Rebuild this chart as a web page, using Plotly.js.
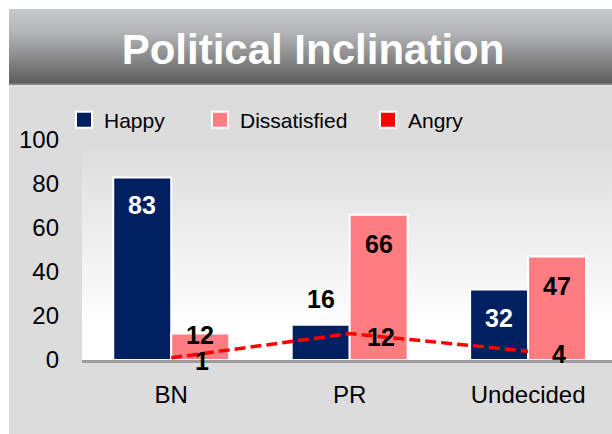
<!DOCTYPE html>
<html>
<head>
<meta charset="utf-8">
<script src="https://cdn.plot.ly/plotly-3.0.1.min.js"></script>
<style>
	html, body { margin: 0; padding: 0; background: #fff; }
	#chart { width: 612px; height: 434px; }
</style>
</head>
<body>
<div id="chart"></div>
<script>
const categories = ['BN', 'PR', 'Undecided'],
	happy = [83, 16, 32],
	dissatisfied = [12, 66, 47],
	angry = [1, 12, 4];

// label offsets (px) from the top of each bar
const happyShift = [-28, 26, -28],
	dissatisfiedShift = [-1, -29, -29],
	happyTextColor = ['#fff', '#000', '#fff'];

const W = 612,
	H = 434,
	M = { l: 82, r: 0, t: 140, b: 74 },
	pw = W - M.l - M.r,
	ph = H - M.t - M.b,
	FONT = 'Liberation Sans, Arial, sans-serif',
	NAVY = '#002060',
	PINK = '#ff7c80',
	RED = '#ff0000';

// pixel -> paper coords
var fx = function (p) { return (p - M.l) / pw; },
	fy = function (p) { return (H - M.b - p) / ph; };

function svgFill(stops) {
	var s = stops.map(function (d) {
		return '<stop offset="' + d[0] + '" stop-color="' + d[1] + '"/>';
	}).join('');
	var svg = '<svg xmlns="http://www.w3.org/2000/svg" width="10" height="100" viewBox="0 0 10 100" preserveAspectRatio="none">' +
		'<defs><linearGradient id="g" x1="0" y1="0" x2="0" y2="1">' + s + '</linearGradient></defs>' +
		'<rect width="10" height="100" fill="url(#g)"/></svg>';
	return 'data:image/svg+xml;charset=utf-8,' + encodeURIComponent(svg);
}

function bgImage(src, x0, y0, x1, y1) {
	return {
		source: src, xref: 'paper', yref: 'paper',
		x: fx(x0), y: fy(y0), sizex: (x1 - x0) / pw, sizey: (y1 - y0) / ph,
		xanchor: 'left', yanchor: 'top', sizing: 'stretch', layer: 'below'
	};
}

var traces = [
	{
		type: 'bar', name: 'Happy', x: categories, y: happy, showlegend: false,
		marker: { color: NAVY, line: { color: '#fff', width: 2 } }
	},
	{
		type: 'bar', name: 'Dissatisfied', x: categories, y: dissatisfied, showlegend: false,
		marker: { color: PINK, line: { color: '#fff', width: 2 } }
	},
	{
		type: 'scatter', mode: 'lines', name: 'Angry', x: categories, y: angry, showlegend: false,
		line: { color: RED, width: 3.5, dash: '11px,5px' }
	}
];

// legend entries (square swatches like the original)
[['Happy', NAVY, 'legend'], ['Dissatisfied', PINK, 'legend2'], ['Angry', RED, 'legend3']].forEach(function (d) {
	traces.push({
		type: 'scatter', mode: 'markers', name: d[0], x: [null], y: [null], legend: d[2],
		marker: { symbol: 'square', size: 24, color: d[1], line: { color: '#fff', width: 2 } }
	});
});

var annotations = [];
categories.forEach(function (c, i) {
	annotations.push({
		x: c, y: happy[i], text: String(happy[i]), showarrow: false,
		xshift: -29, yshift: happyShift[i], yanchor: 'middle',
		font: { family: FONT, size: 25, weight: 'bold', color: happyTextColor[i] }
	});
	annotations.push({
		x: c, y: dissatisfied[i], text: String(dissatisfied[i]), showarrow: false,
		xshift: 29, yshift: dissatisfiedShift[i], yanchor: 'middle',
		font: { family: FONT, size: 25, weight: 'bold', color: '#000' }
	});
	annotations.push({
		x: c, y: angry[i], text: String(angry[i]), showarrow: false,
		xshift: 31, yshift: -3, yanchor: 'middle',
		font: { family: FONT, size: 25, weight: 'bold', color: '#000' }
	});
});

function legendAt(px) {
	return {
		x: fx(px), y: fy(120), xanchor: 'left', yanchor: 'middle',
		orientation: 'h', bgcolor: 'rgba(0,0,0,0)', borderwidth: 0,
		itemsizing: 'trace',
		font: { family: FONT, size: 21, color: '#000' }
	};
}

var layout = {
	width: W,
	height: H,
	margin: M,
	paper_bgcolor: '#fff',
	plot_bgcolor: 'rgba(0,0,0,0)',
	font: { family: FONT, color: '#000' },
	title: {
		text: 'Political Inclination',
		font: { family: FONT, size: 42, weight: 'bold', color: '#fff' },
		xref: 'container', yref: 'container',
		x: 313 / W, y: 1 - 49 / H, xanchor: 'center', yanchor: 'middle'
	},
	barmode: 'group',
	bargap: 0.35,
	bargroupgap: 0,
	xaxis: {
		type: 'category',
		range: [-0.5, 2.47],
		showline: true, linecolor: '#9c9c9c', linewidth: 3,
		showgrid: false, zeroline: false, ticks: '',
		ticklabelstandoff: 11,
		tickfont: { family: FONT, size: 24, color: '#000' }
	},
	yaxis: {
		range: [0, 100],
		tickvals: [0, 20, 40, 60, 80, 100],
		showgrid: false, zeroline: false, showline: false, ticks: '',
		ticklabelstandoff: 22,
		tickfont: { family: FONT, size: 24, color: '#000' }
	},
	legend: legendAt(64),
	legend2: legendAt(200),
	legend3: legendAt(368),
	annotations: annotations,
	images: [
		bgImage(svgFill([[0, '#dcdcdc'], [1, '#dcdcdc']]), 9, 9, W, H),
		bgImage(svgFill([[0, '#c7c8ca'], [0.3, '#b5b6b8'], [0.97, '#5e5e5e'], [1, '#9a9a9a']]), 9, 9, W, 85),
		bgImage(svgFill([[0, '#dedede'], [0.85, '#ffffff'], [1, '#ffffff']]), 82, 150, W, 360)
	]
};

Plotly.newPlot('chart', traces, layout, { staticPlot: true, displayModeBar: false });
</script>
</body>
</html>
